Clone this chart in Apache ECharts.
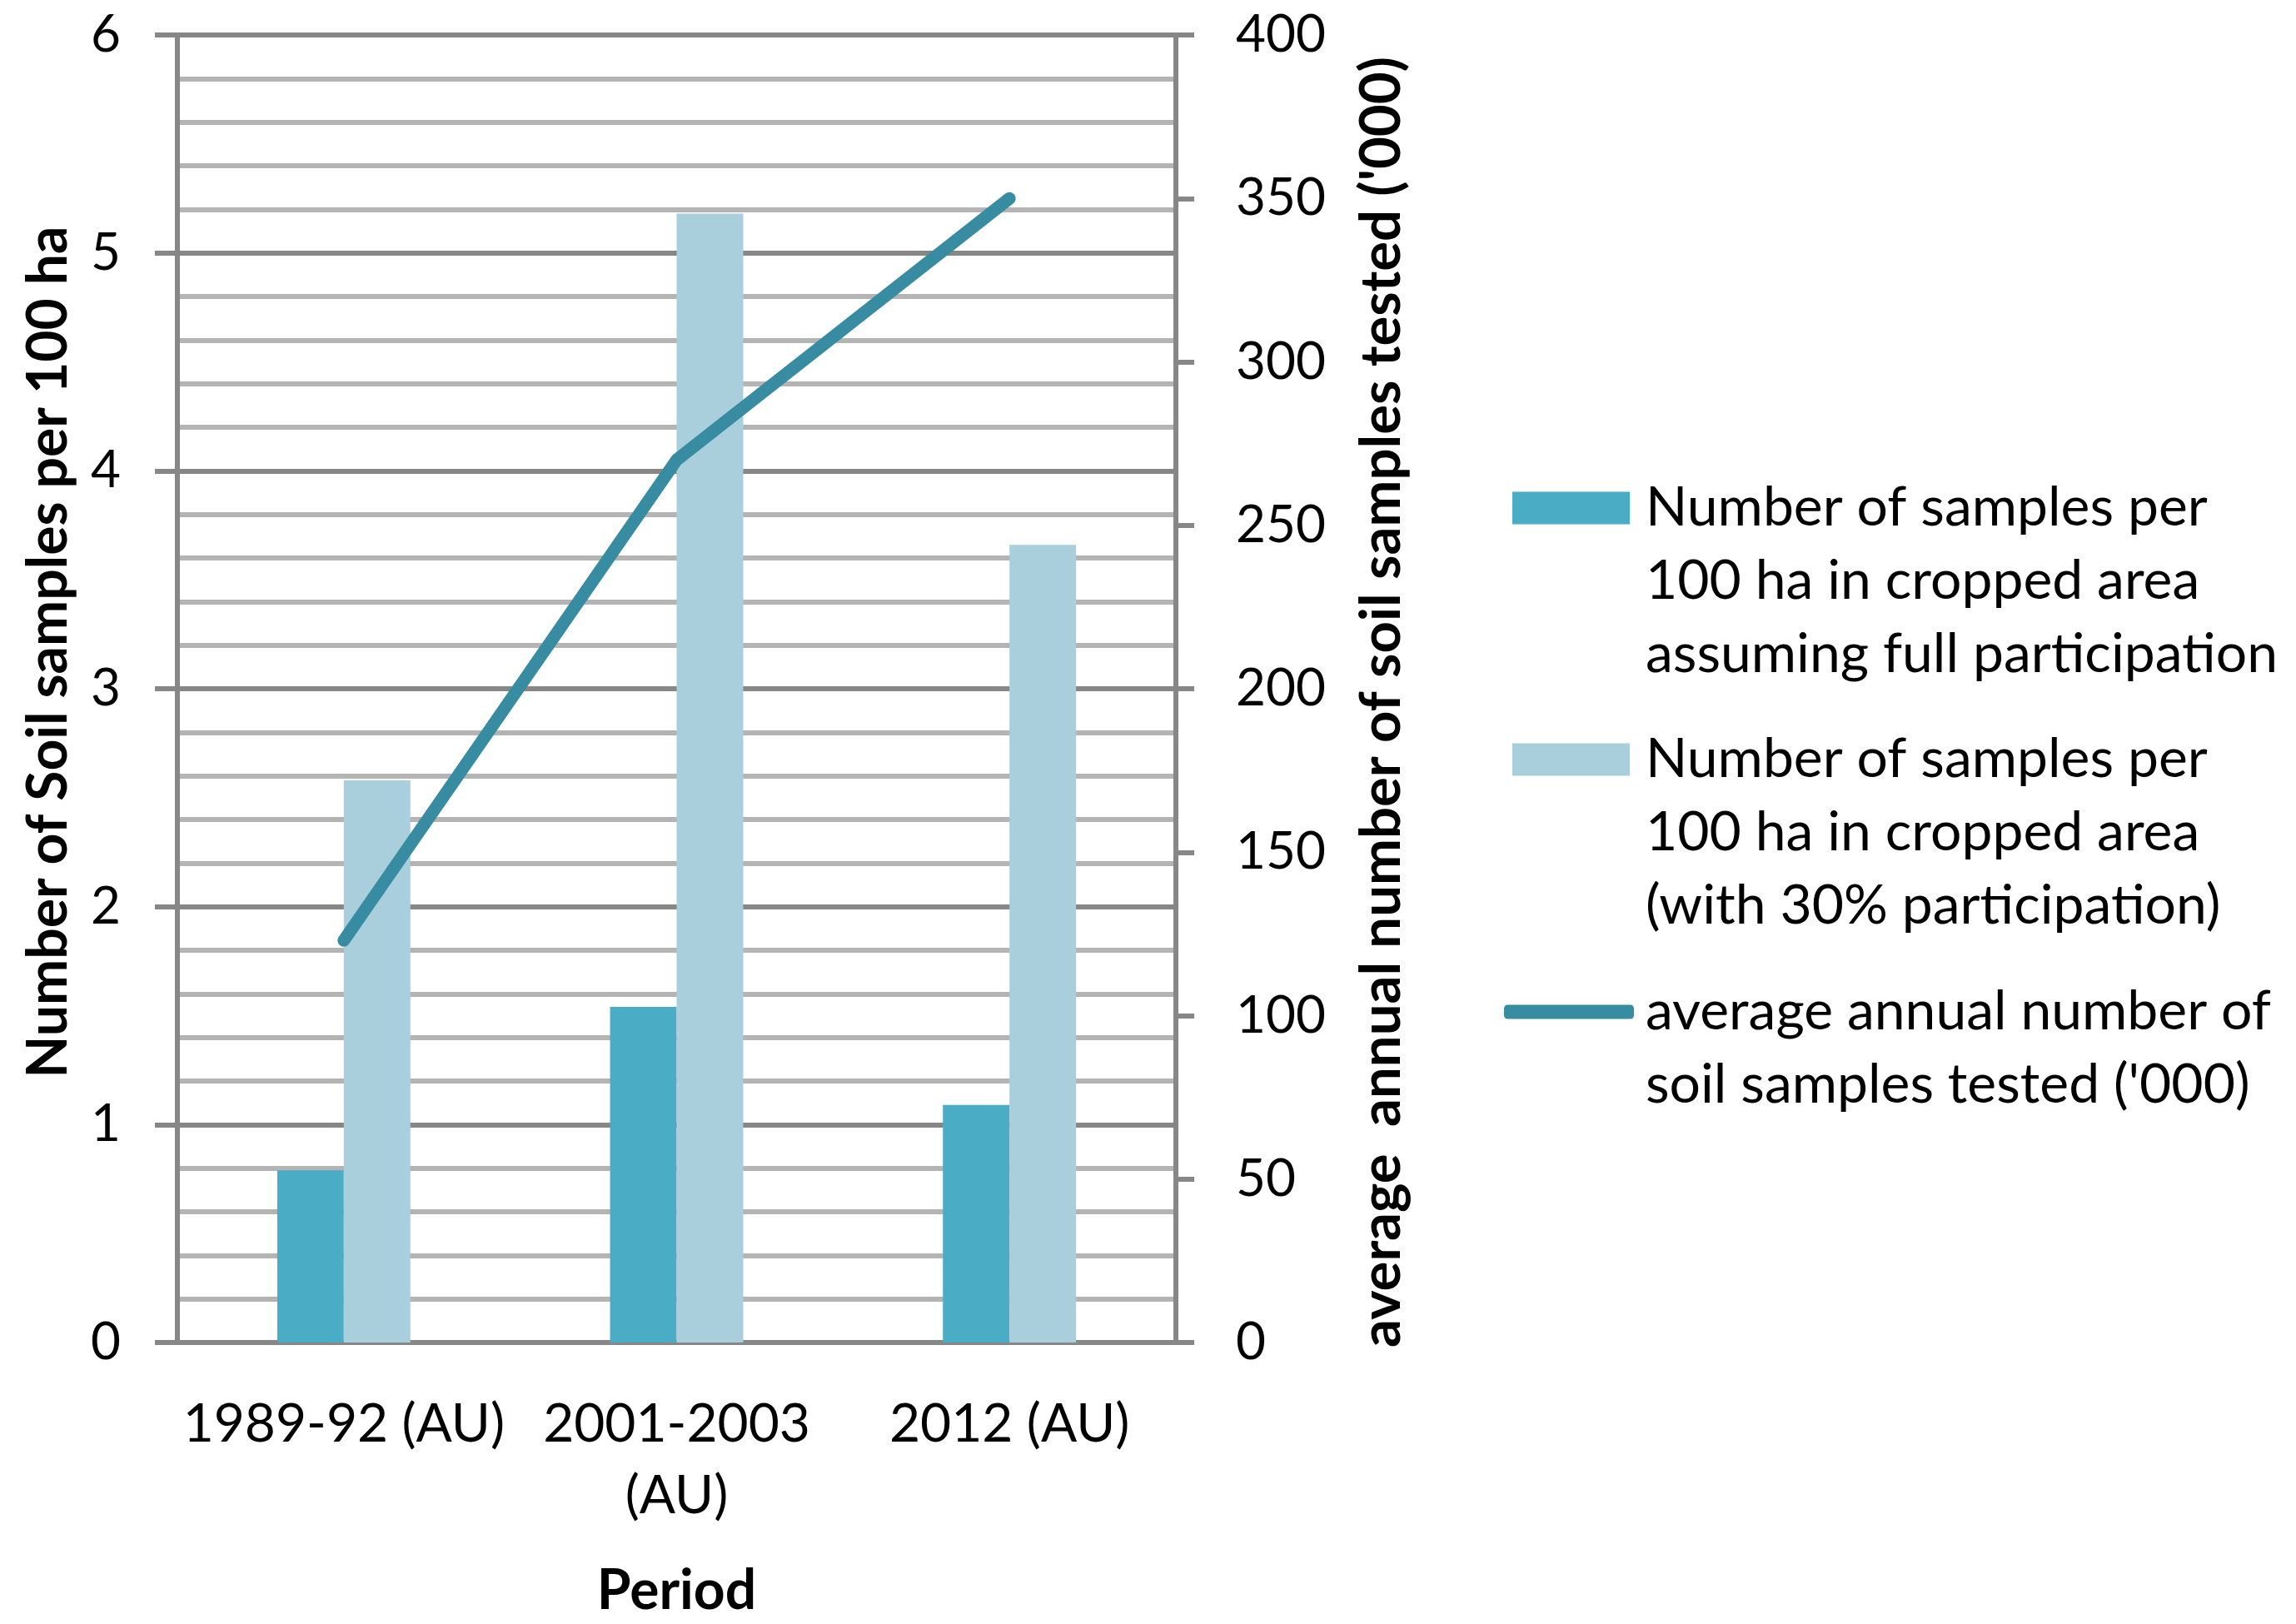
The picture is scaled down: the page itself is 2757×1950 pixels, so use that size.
<!DOCTYPE html>
<html>
<head>
<meta charset="utf-8">
<script src="https://cdn.jsdelivr.net/npm/echarts@6/dist/echarts.min.js"></script>
<style>html,body{margin:0;padding:0;background:#fff}#c{width:2757px;height:1950px}</style>
</head>
<body>
<div id="c"></div>
<script>
const categories = ['1989-92 (AU)', '2001-2003\n(AU)', '2012 (AU)'];
const fullParticipation = [0.79, 1.54, 1.09];
const participation30 = [2.58, 5.18, 3.66];
const annualTested = [123, 270, 350];
const seriesNames = [
  'Number of samples per 100 ha in cropped area assuming full participation',
  'Number of samples per 100 ha in cropped area (with 30% participation)',
  "average annual number of soil samples tested ('000)"
];
const legendLabels = [
  'Number of samples per\n100 ha in cropped area\nassuming full participation',
  'Number of samples per\n100 ha in cropped area\n(with 30% participation)',
  "average annual number of\nsoil samples tested ('000)"
];

const FONT = 'Lato, "Open Sans", sans-serif';
const AX = '#878787';
const chart = echarts.init(document.getElementById('c'));

function legendFor(i, top, icon, w, h, padLeft) {
  const lines = legendLabels[i].split('\n').length;
  const lead = '\n'.repeat(lines - 1);
  return {
    show: true, orient: 'vertical', left: icon === 'roundRect' ? 1806 : 1816, top: top, padding: 0,
    data: [seriesNames[i]], icon: icon, itemWidth: w, itemHeight: h,
    selectedMode: false,
    formatter: function () { return lead + legendLabels[i]; },
    textStyle: { fontFamily: FONT, fontSize: 66, lineHeight: 88, color: '#000',
      padding: [0, 0, 0, padLeft] }
  };
}

chart.setOption({
  animation: false,
  textStyle: { fontFamily: FONT },
  grid: { left: 213, right: 1345, top: 42, bottom: 338, containLabel: false },
  legend: [
    legendFor(0, 390, 'rect', 141, 39, 14),
    legendFor(1, 692, 'rect', 141, 39, 14),
    legendFor(2, 1083, 'roundRect', 156, 17, 9)
  ],
  xAxis: {
    type: 'category', data: categories,
    axisLine: { show: true, lineStyle: { color: AX, width: 6 } },
    axisTick: { show: false },
    axisLabel: { interval: 0, fontFamily: FONT, fontSize: 64, lineHeight: 86, margin: 55, color: '#000' },
    name: 'Period', nameLocation: 'middle', nameGap: 266,
    nameTextStyle: { fontFamily: FONT, fontSize: 66, fontWeight: 'bold', color: '#000' }
  },
  yAxis: [
    {
      type: 'value', min: 0, max: 6, interval: 1, position: 'left',
      axisLine: { show: true, lineStyle: { color: AX, width: 6 } },
      axisTick: { show: true, inside: false, length: 27, lineStyle: { color: AX, width: 6 } },
      axisLabel: { fontFamily: FONT, fontSize: 62, margin: 68, color: '#000' },
      splitLine: { show: true, lineStyle: { color: AX, width: 6 } },
      minorTick: { show: false, splitNumber: 5 },
      minorSplitLine: { show: true, lineStyle: { color: '#b4b4b4', width: 6 } },
      name: 'Number of Soil samples per 100 ha', nameLocation: 'middle', nameGap: 121, nameRotate: 90,
      nameTextStyle: { fontFamily: FONT, fontSize: 66, fontWeight: 'bold', color: '#000', padding: [0, 0, 0, 88] }
    },
    {
      type: 'value', min: 0, max: 400, interval: 50, position: 'right',
      axisLine: { show: true, lineStyle: { color: AX, width: 6 } },
      axisTick: { show: true, inside: false, length: 22, lineStyle: { color: AX, width: 6 } },
      axisLabel: { fontFamily: FONT, fontSize: 62, margin: 72, color: '#000' },
      splitLine: { show: false },
      name: "average  annual number of soil samples tested ('000)", nameLocation: 'middle', nameGap: 214, nameRotate: 90,
      nameTextStyle: { fontFamily: FONT, fontSize: 67, fontWeight: 'bold', color: '#000', padding: [0, 32, 0, 0] }
    }
  ],
  series: [
    { name: seriesNames[0], type: 'bar', data: fullParticipation, barGap: '0%', barCategoryGap: '60%',
      itemStyle: { color: '#4bacc6' } },
    { name: seriesNames[1], type: 'bar', data: participation30, barGap: '0%', barCategoryGap: '60%',
      itemStyle: { color: '#a9cedc' } },
    { name: seriesNames[2], type: 'line', yAxisIndex: 1, data: annualTested, symbol: 'none', smooth: false,
      lineStyle: { color: '#388ca1', width: 15, cap: 'round', join: 'round' }, itemStyle: { color: '#388ca1' }, z: 5 }
  ]
});
</script>
</body>
</html>
